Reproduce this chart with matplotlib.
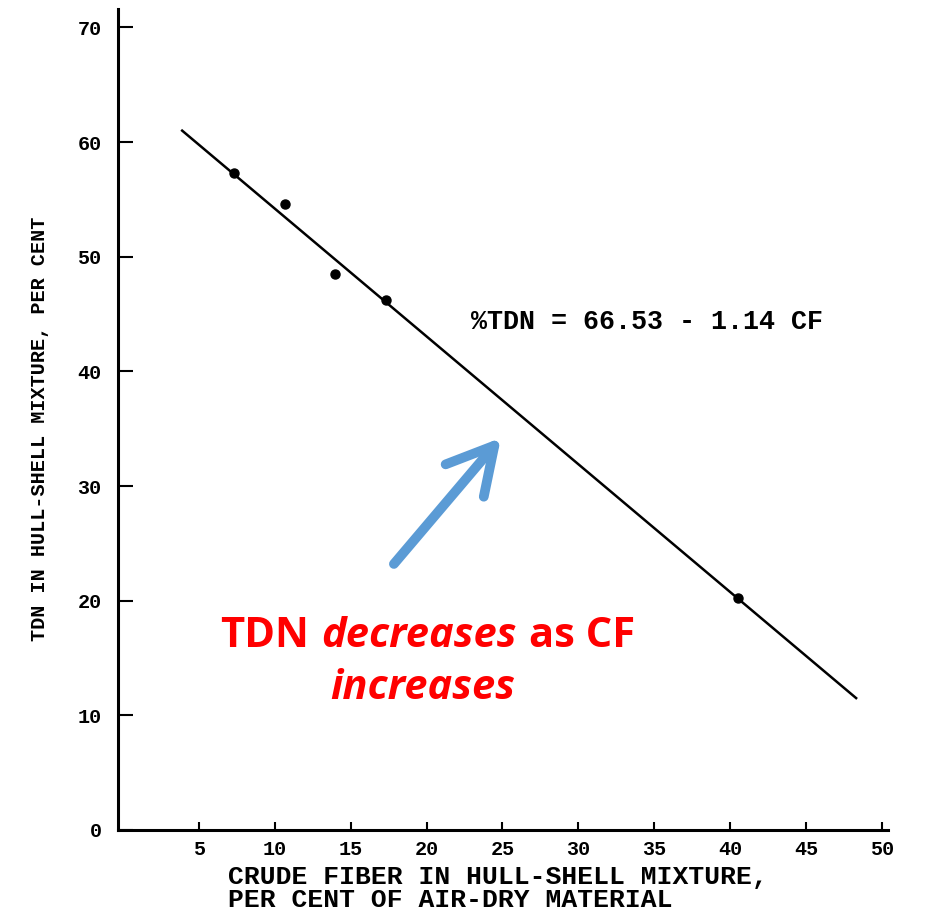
import matplotlib
matplotlib.use("Agg")
import matplotlib.pyplot as plt

# data
cf_points = [7.3, 10.7, 14.0, 17.3, 40.5]
tdn_points = [57.3, 54.6, 48.5, 46.2, 20.2]
fit_x = [3.9, 48.3]
fit_y = [61.0, 11.5]
xticks = [5, 10, 15, 20, 25, 30, 35, 40, 45, 50]
yticks = [0, 10, 20, 30, 40, 50, 60, 70]

mono = "Liberation Mono"

fig = plt.figure(figsize=(9.25, 9.11), dpi=100)
ax = fig.add_axes([0.128, 0.089, 0.832, 0.901])

ax.plot(fit_x, fit_y, color="black", lw=1.8)
ax.plot(cf_points, tdn_points, "o", color="black", ms=6.5)

ax.set_xlim(-0.3, 50.4)
ax.set_ylim(0, 71.6)
ax.set_xticks(xticks)
ax.set_yticks(yticks)

for s in ["top", "right"]:
    ax.spines[s].set_visible(False)
for s in ["left", "bottom"]:
    ax.spines[s].set_linewidth(2.2)

ax.tick_params(axis="y", direction="in", length=11, width=1.5, pad=12)
ax.tick_params(axis="x", direction="in", length=6, width=1.5, pad=7)
for lab in ax.get_xticklabels() + ax.get_yticklabels():
    lab.set_fontfamily(mono)
    lab.set_fontweight("bold")
    lab.set_fontsize(14.5)

# axis titles
fig.text(0.2465, 0.0247, "CRUDE FIBER IN HULL-SHELL MIXTURE,\nPER CENT OF AIR-DRY MATERIAL",
         family=mono, weight="bold", fontsize=19, ha="left", va="center", linespacing=0.92)
fig.text(0.043, 0.529, "TDN IN HULL-SHELL MIXTURE, PER CENT", family=mono, weight="bold",
         fontsize=14.5, rotation=90, ha="center", va="center")

# regression equation
ax.text(22.9, 44.3, "%TDN = 66.53 - 1.14 CF", family=mono, weight="bold",
        fontsize=19.3, ha="left", va="center")

# red annotation, mixed upright / italic
red = "#FF0000"
rfont = "Open Sans"
rsize = 30
t1 = ax.text(6.4, 15.1, "TDN", family=rfont, weight="bold", color=red,
             fontsize=rsize, ha="left", va="bottom")
t2 = ax.annotate("decreases", xy=(1, 0), xycoords=t1, xytext=(9, 0), textcoords="offset points",
                 family=rfont, weight="bold", style="italic", color=red, fontsize=rsize,
                 ha="left", va="bottom")
t3 = ax.annotate("as CF", xy=(1, 0), xycoords=t2, xytext=(9, 0), textcoords="offset points",
                 family=rfont, weight="bold", color=red, fontsize=rsize, ha="left", va="bottom")
ax.text(19.75, 12.3, "increases", family=rfont, weight="bold", style="italic", color=red,
        fontsize=rsize, ha="center", va="center")

# blue arrow pointing at the line
ax.annotate("", xy=(24.9, 34.2), xytext=(17.85, 23.2),
            arrowprops=dict(arrowstyle="->,head_length=3.3,head_width=1.8",
                            lw=7, color="#5B9BD5", capstyle="round",
                            shrinkA=0, shrinkB=0))

fig.savefig("out.png", dpi=100)
